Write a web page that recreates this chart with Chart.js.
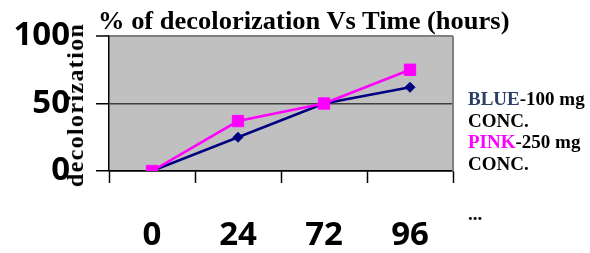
<!DOCTYPE html>
<html>
<head>
<meta charset="utf-8">
<script src="https://cdn.jsdelivr.net/npm/chart.js@4/dist/chart.umd.min.js"></script>
<style>
  html, body { margin: 0; padding: 0; background: #fff; }
  #wrap { position: relative; width: 590px; height: 253px; overflow: hidden; }
  canvas { position: absolute; left: 0; top: 0; }
  .t { position: absolute; font-family: "Liberation Serif", "Times New Roman", serif; font-weight: bold; color: #000; white-space: nowrap; }
  #title { left: 98px; top: 8px; font-size: 25px; line-height: 25px; transform-origin: 0 0; transform: scaleX(1.06); }
  #legend { left: 468px; top: 88px; font-size: 19px; line-height: 21.5px; }
  #dots { left: 468px; top: 203px; font-size: 19px; line-height: 21.5px; }
  #ytitle { left: 75px; top: 105px; width: 0; height: 0; }
  #ytitle span { position: absolute; left: 0; top: 0; font-size: 24px; line-height: 24px; letter-spacing: 1.35px; transform: translate(-50%, -50%) rotate(-90deg); }
</style>
</head>
<body>
<div id="wrap">
  <canvas id="c" width="590" height="253"></canvas>
  <div class="t" id="ytitle"><span>decolorization</span></div>
  <div class="t" id="title">% of decolorization Vs Time (hours)</div>
  <div class="t" id="legend"><span style="color:#2B3F66">BLUE</span>-100 mg<br>CONC.<br><span style="color:#FF00FF">PINK</span>-250 mg<br>CONC.</div>
  <div class="t" id="dots">...</div>
</div>
<script>
// ---- data ----
const categories = ['0', '24', '72', '96'];
const blueValues = [0, 25, 50, 62];
const pinkValues = [0, 37, 50, 75];
const yTickValues = [0, 50, 100];

const plotBg = {
  id: 'plotBg',
  beforeDraw(chart) {
    const a = chart.chartArea, ctx = chart.ctx;
    ctx.save();
    ctx.fillStyle = '#C0C0C0';
    ctx.fillRect(a.left, a.top, a.right - a.left, a.bottom - a.top);
    ctx.restore();
  },
  beforeDatasetsDraw(chart) {
    const a = chart.chartArea, ctx = chart.ctx;
    ctx.save();
    ctx.strokeStyle = '#808080';
    ctx.lineWidth = 2;
    ctx.beginPath();
    ctx.moveTo(a.right, a.top);
    ctx.lineTo(a.right, a.bottom);
    ctx.stroke();
    ctx.restore();
  }
};

new Chart(document.getElementById('c'), {
  type: 'line',
  data: {
    labels: categories,
    datasets: [
      {
        label: 'PINK-250 mg CONC.',
        data: pinkValues,
        borderColor: '#FF00FF',
        backgroundColor: '#FF00FF',
        borderWidth: 2.5,
        pointStyle: 'rect',
        pointRadius: 8,
        pointBorderWidth: 1,
        tension: 0,
        order: 0
      },
      {
        label: 'BLUE-100 mg CONC.',
        data: blueValues,
        borderColor: '#000080',
        backgroundColor: '#000080',
        borderWidth: 2.5,
        pointStyle: 'rectRot',
        pointRadius: 5,
        pointBorderWidth: 1,
        tension: 0,
        order: 1
      }
    ]
  },
  options: {
    responsive: false,
    animation: false,
    layout: { padding: { left: 0, top: 36, right: 137, bottom: 0 } },
    plugins: { legend: { display: false }, title: { display: false }, tooltip: { enabled: false } },
    scales: {
      x: {
        type: 'category',
        offset: true,
        grid: { display: true, offset: true, drawOnChartArea: false, drawTicks: true, tickLength: 12, tickColor: '#000', tickWidth: 1.5 },
        border: { display: true, color: '#000', width: 1.5 },
        ticks: { color: '#000', font: { family: 'Open Sans', weight: 'bold', size: 33 }, padding: 33, maxRotation: 0, autoSkip: false },
        afterFit(s) { s.height = 82; s.paddingLeft = 0; s.paddingRight = 0; }
      },
      y: {
        min: 0, max: 100,
        afterBuildTicks(s) { s.ticks = yTickValues.map(v => ({ value: v })); },
        grid: {
          drawOnChartArea: true, drawTicks: true, tickLength: 13, tickColor: '#000', tickWidth: 1.5,
          color: (ctx) => ctx.tick && ctx.tick.value === 100 ? '#808080' : (ctx.tick && ctx.tick.value === 50 ? '#404040' : '#000'),
          lineWidth: (ctx) => ctx.tick && ctx.tick.value === 100 ? 2 : 1.5
        },
        border: { display: true, color: '#000', width: 1.5 },
        ticks: { color: '#000', font: { family: 'Open Sans', weight: 'bold', size: 33 }, padding: 26 },
        afterFit(s) { s.width = 109; s.paddingTop = 0; s.paddingBottom = 0; }
      }
    }
  },
  plugins: [plotBg]
});
</script>
</body>
</html>
